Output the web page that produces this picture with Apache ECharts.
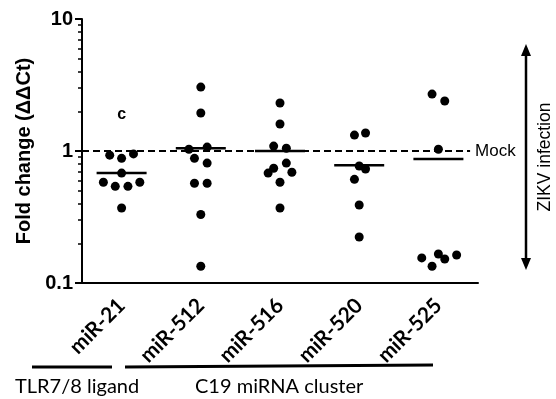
<!DOCTYPE html>
<html>
<head>
<meta charset="utf-8">
<script src="https://cdn.jsdelivr.net/npm/echarts@6/dist/echarts.min.js"></script>
<style>
  html, body { margin: 0; padding: 0; background: #fff; }
  #chart { width: 556px; height: 399px; }
</style>
</head>
<body>
<div id="chart"></div>
<script>
const categories = ["miR-21", "miR-512", "miR-516", "miR-520", "miR-525"];

// fold change per replicate, with horizontal jitter (in category units)
const mir21 = [0.93, 0.88, 0.95, 0.68, 0.58, 0.54, 0.54, 0.58, 0.37];
const mir21Jitter = [-0.15, 0, 0.15, 0, -0.23, -0.08, 0.08, 0.23, 0];
const mir512 = [3.05, 1.94, 1.03, 1.07, 0.88, 0.81, 0.57, 0.57, 0.33, 0.134];
const mir512Jitter = [0, 0, -0.15, 0.08, -0.08, 0.08, -0.08, 0.08, 0, 0];
const mir516 = [2.31, 1.6, 1.09, 1.05, 0.81, 0.69, 0.68, 0.74, 0.58, 0.37];
const mir516Jitter = [0, 0, -0.08, 0.08, 0.08, 0.15, -0.15, -0.08, 0, 0];
const mir520 = [1.32, 1.37, 0.77, 0.73, 0.61, 0.39, 0.223];
const mir520Jitter = [-0.06, 0.08, 0, 0.08, -0.06, 0, 0];
const mir525 = [2.7, 2.39, 1.03, 0.155, 0.134, 0.166, 0.152, 0.163];
const mir525Jitter = [-0.08, 0.08, 0, -0.21, -0.08, 0, 0.08, 0.23];

const groupMeans = [0.68, 1.05, 1.0, 0.78, 0.87];
const mockLevel = 1;
const yTickLabels = ["0.1", "1", "10"];
const minorTicks = [0.2, 0.3, 0.4, 0.5, 0.6, 0.7, 0.8, 0.9, 2, 3, 4, 5, 6, 7, 8, 9];

const groups = [mir21, mir512, mir516, mir520, mir525];
const jitters = [mir21Jitter, mir512Jitter, mir516Jitter, mir520Jitter, mir525Jitter];

const points = [];
groups.forEach((vals, i) => {
  vals.forEach((v, j) => points.push([i + jitters[i][j], v]));
});

const chart = echarts.init(document.getElementById("chart"));

const option = {
  animation: false,
  grid: { left: 82, right: 78, top: 19, bottom: 116 },
  xAxis: [
    {
      type: "category",
      data: categories,
      axisLine: { lineStyle: { color: "#000", width: 2 } },
      axisTick: { alignWithLabel: true, length: 7, lineStyle: { color: "#000", width: 2 } },
      axisLabel: {
        interval: 0,
        rotate: 45,
        margin: 19,
        color: "#000",
        fontFamily: "Lato",
        fontWeight: "bold",
        fontSize: 21
      }
    },
    { type: "value", min: -0.5, max: 4.5, show: false }
  ],
  yAxis: [
    {
      type: "log",
      logBase: 10,
      min: 0.1,
      max: 10,
      name: "Fold change (ΔΔCt)",
      nameLocation: "middle",
      nameGap: 48,
      nameTextStyle: { color: "#000", fontFamily: "Liberation Sans", fontWeight: "bold", fontSize: 20 },
      axisLine: { show: true, onZero: false, lineStyle: { color: "#000", width: 2 } },
      axisTick: { show: true, length: 7, lineStyle: { color: "#000", width: 2 } },
      axisLabel: {
        margin: 9,
        color: "#000",
        fontFamily: "Liberation Sans",
        fontWeight: "bold",
        fontSize: 20,
        formatter: (v) => yTickLabels[Math.round(Math.log10(v)) + 1]
      },
      splitLine: { show: false }
    },
    {
      type: "log",
      logBase: 10,
      min: 0.1,
      max: 10,
      position: "left",
      axisLine: { show: false, onZero: false },
      axisLabel: { show: false },
      splitLine: { show: false },
      axisTick: { show: true, length: 4, customValues: minorTicks, lineStyle: { color: "#000", width: 1.5 } }
    }
  ],
  series: [
    {
      type: "scatter",
      xAxisIndex: 1,
      data: groupMeans.map((m, i) => [i, m]),
      symbol: "rect",
      symbolSize: [50, 2.5],
      itemStyle: { color: "#000", opacity: 1 },
      silent: true,
      z: 2,
      markLine: {
        silent: true,
        symbol: "none",
        lineStyle: { color: "#000", width: 2, type: [7, 4] },
        label: {
          show: true,
          position: "end",
          formatter: "Mock",
          color: "#000",
          fontFamily: "Liberation Sans",
          fontSize: 17
        },
        data: [[{ coord: [-0.5, mockLevel] }, { coord: [4.4, mockLevel] }]]
      }
    },
    {
      type: "scatter",
      xAxisIndex: 1,
      data: points,
      symbol: "circle",
      symbolSize: 9,
      itemStyle: { color: "#000", opacity: 1 },
      z: 3,
      markPoint: {
        symbol: "circle",
        symbolSize: 1,
        itemStyle: { color: "rgba(0,0,0,0)" },
        label: {
          show: true,
          position: "inside",
          formatter: "c",
          color: "#000",
          fontFamily: "Liberation Sans",
          fontWeight: "bold",
          fontSize: 16
        },
        data: [{ coord: [0, 1.9] }]
      }
    }
  ],
  graphic: [
    { type: "line", shape: { x1: 526, y1: 52, x2: 526, y2: 262 }, style: { stroke: "#000", lineWidth: 2.5 } },
    { type: "polygon", shape: { points: [[526, 44], [521, 56], [531, 56]] }, style: { fill: "#000" } },
    { type: "polygon", shape: { points: [[526, 270], [521, 258], [531, 258]] }, style: { fill: "#000" } },
    {
      type: "text",
      x: 545,
      y: 157,
      rotation: Math.PI / 2,
      style: {
        text: "ZIKV infection",
        fill: "#000",
        font: "17.5px 'Liberation Sans'",
        textAlign: "center",
        textVerticalAlign: "middle"
      }
    },
    { type: "line", shape: { x1: 32, y1: 367, x2: 112, y2: 367 }, style: { stroke: "#000", lineWidth: 3 } },
    { type: "line", shape: { x1: 125, y1: 367, x2: 433, y2: 365 }, style: { stroke: "#000", lineWidth: 3 } },
    {
      type: "text",
      x: 15,
      y: 387,
      style: { text: "TLR7/8 ligand", fill: "#000", font: "20px Lato", textVerticalAlign: "middle" }
    },
    {
      type: "text",
      x: 195,
      y: 387,
      style: { text: "C19 miRNA cluster", fill: "#000", font: "20px Lato", textVerticalAlign: "middle" }
    }
  ]
};

chart.setOption(option);
</script>
</body>
</html>
